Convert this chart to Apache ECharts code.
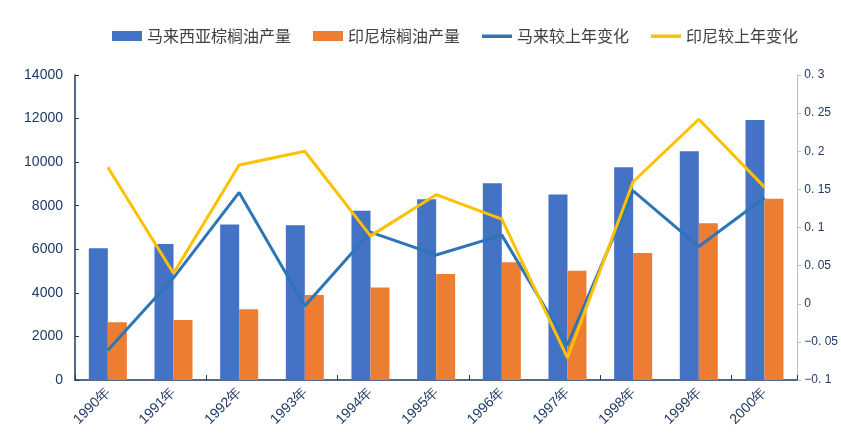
<!DOCTYPE html>
<html><head><meta charset="utf-8">
<script src="https://cdn.jsdelivr.net/npm/echarts@6/dist/echarts.min.js"></script>
<style>html,body{margin:0;padding:0;background:#fff}#c{width:841px;height:447px}</style>
</head><body><div id="c"></div>
<script>
var years = ['1990年','1991年','1992年','1993年','1994年','1995年','1996年','1997年','1998年','1999年','2000年'];
var malaysiaOutput = [6050, 6240, 7140, 7100, 7770, 8300, 9030, 8520, 9760, 10500, 11930];
var indonesiaOutput = [2650, 2750, 3250, 3900, 4250, 4860, 5410, 5020, 5830, 7190, 8320];
var malaysiaChange = [-0.061, 0.034, 0.146, -0.003, 0.094, 0.064, 0.090, -0.054, 0.148, 0.075, 0.139];
var indonesiaChange = [0.179, 0.040, 0.182, 0.200, 0.089, 0.143, 0.111, -0.071, 0.160, 0.242, 0.153];
var seriesNames = ['马来西亚棕榈油产量','印尼棕榈油产量','马来较上年变化','印尼较上年变化'];

var navy = '#1F3864';
var lineIcon = 'path://M0,0M0,3.5h30v3.5h-30zM30,10';
var chart = echarts.init(document.getElementById('c'), null, {renderer:'canvas'});
chart.setOption({
  animation: false,
  legend: {
    top: 23, left: 107, itemGap: 22, itemWidth: 30, itemHeight: 10,
    textStyle: {fontSize: 16, color: '#404040', fontFamily: 'Noto Sans CJK SC'},
    data: [
      {name: seriesNames[0], icon: 'rect'},
      {name: seriesNames[1], icon: 'rect'},
      {name: seriesNames[2], icon: lineIcon},
      {name: seriesNames[3], icon: lineIcon}
    ]
  },
  grid: {left: 75, right: 41, top: 75, bottom: 67},
  xAxis: {
    type: 'category', data: years,
    axisLine: {lineStyle: {color: navy, width: 1.5}},
    axisTick: {show: true, inside: true, length: 5, interval: 1, lineStyle: {color: navy}},
    axisLabel: {rotate: 45, fontSize: 14, color: navy, margin: 10, interval: 0, fontFamily: 'Liberation Sans'}
  },
  yAxis: [
    {type: 'value', min: 0, max: 14000, interval: 2000,
     axisLine: {show: true, lineStyle: {color: navy, width: 1.5}},
     axisTick: {show: true, inside: true, length: 4, lineStyle: {color: navy}},
     splitLine: {show: false},
     axisLabel: {fontSize: 14, color: navy, margin: 12, fontFamily: 'Liberation Sans',
       formatter: function(v){ return String(v); }}},
    {type: 'value', min: -0.1, max: 0.3, interval: 0.05,
     axisLine: {show: true, lineStyle: {color: '#BFBFBF', width: 1}},
     axisTick: {show: true, length: 4, lineStyle: {color: '#BFBFBF'}},
     splitLine: {show: false},
     axisLabel: {fontSize: 12, color: navy, margin: 7, fontFamily: 'Liberation Sans',
       formatter: function(v){ var s = String(Math.round(v*100)/100); return s.replace('-', '\u2212').replace('.', '. '); }}}
  ],
  series: [
    {name: seriesNames[0], type: 'bar', data: malaysiaOutput, barWidth: 19, barGap: '0%',
     itemStyle: {color: '#4472C4'}},
    {name: seriesNames[1], type: 'bar', data: indonesiaOutput, barWidth: 19, barGap: '0%',
     itemStyle: {color: '#ED7D31'}},
    {name: seriesNames[2], type: 'line', yAxisIndex: 1, data: malaysiaChange, symbol: 'none',
     lineStyle: {color: '#2E75B6', width: 3}, itemStyle: {color: '#2E75B6'}},
    {name: seriesNames[3], type: 'line', yAxisIndex: 1, data: indonesiaChange, symbol: 'none',
     lineStyle: {color: '#FFC000', width: 3}, itemStyle: {color: '#FFC000'}}
  ]
});
</script></body></html>
